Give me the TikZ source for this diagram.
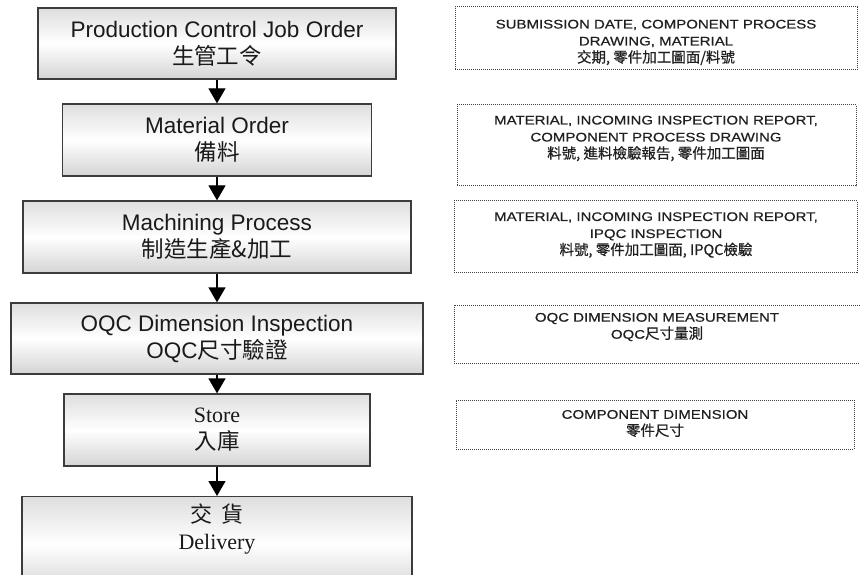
\documentclass[tikz,border=0pt]{standalone}
\usepackage{fontspec}
\setmainfont{Liberation Sans}
\newfontfamily\serifx{Liberation Serif}
\newfontfamily\cjk{Noto Sans CJK TC}
\newfontfamily\cjknote[FakeBold=0.6]{Noto Sans CJK TC}
\newfontfamily\notefont[FakeStretch=1.2,FakeBold=0.6]{Liberation Sans}
\usetikzlibrary{arrows.meta}
\definecolor{boxline}{HTML}{3C3C3C}
\definecolor{boxtop}{HTML}{DEDEDE}
\definecolor{boxbot}{HTML}{D4D4D4}
\definecolor{noteline}{HTML}{404040}
\definecolor{notecol}{HTML}{202020}
\definecolor{txt}{HTML}{1A1A1A}
\newcommand\nc{\cjknote\fontsize{14.5}{17}\selectfont}
\tikzset{
  flowbox/.style={draw=boxline, line width=1.3pt, top color=boxtop, bottom color=boxbot, middle color=white,
    text=txt, align=center, font=\fontsize{22.5}{27}\selectfont, inner sep=0pt},
  flowtext/.style={text=txt, align=center, font=\fontsize{22}{27}\selectfont, inner sep=0pt},
  notebox/.style={draw=noteline, dash pattern=on 1pt off 1pt, line width=1pt, inner sep=0pt},
  notetext/.style={align=center, text=notecol, font=\notefont\fontsize{12.5}{17}\selectfont, inner sep=0pt},
  flow/.style={draw=black, line width=1.3pt, -{Triangle[width=17pt,length=15pt]}},
}
\begin{document}
\begin{tikzpicture}[x=1pt,y=-1pt]
\useasboundingbox (0,0) rectangle (860,575);
% process boxes
\node[flowbox, minimum width=358pt, minimum height=71pt] (b1) at (217,43.5) {Production Control Job Order\\{\cjk 生管工令}};
\node[flowbox, minimum width=309pt, minimum height=72pt] (b2) at (217,140) {Material Order\\{\cjk 備料}};
\node[flowbox, minimum width=388pt, minimum height=72pt] (b3) at (217,237) {Machining Process\\{\cjk 制造生產\&加工}};
\node[flowbox, minimum width=412pt, minimum height=71pt] (b4) at (217,338.5) {OQC Dimension Inspection\\OQC{\cjk 尺寸驗證}};
\node[flowbox, minimum width=306pt, minimum height=72pt] (b5) at (217,430) {{\serifx\fontsize{22}{27}\selectfont Store}\\{\cjk 入庫}};
\node[flowbox, minimum width=390pt, minimum height=95pt, anchor=north] (b6) at (217,496) {};
\node[flowtext] (t6) at (217,529) {{\cjk 交\hspace{0.4em}貨}\\{\serifx Delivery}};
% connectors
\draw[flow] (b1.south) -- (b2.north);
\draw[flow] (b2.south) -- (b3.north);
\draw[flow] (b3.south) -- (b4.north);
\draw[flow] (b4.south) -- (b5.north);
\draw[flow] (b5.south) -- (b6.north);
% note boxes
\node[notebox, minimum width=402pt, minimum height=63pt] (n1) at (656,38.5) {};
\node[notebox, minimum width=399pt, minimum height=81pt] (n2) at (656.5,145.5) {};
\node[notebox, minimum width=403pt, minimum height=71pt] (n3) at (655.5,236.5) {};
\node[notebox, minimum width=416pt, minimum height=58pt] (n4) at (662,334) {};
\node[notebox, minimum width=398pt, minimum height=49pt] (n5) at (655,424.5) {};
\node[notetext] (n1t) at (656,42.5) {SUBMISSION DATE, COMPONENT PROCESS\\DRAWING, MATERIAL\\{\nc 交期, 零件加工圖面/料號}};
\node[notetext] (n2t) at (656,138.5) {MATERIAL, INCOMING INSPECTION REPORT,\\COMPONENT PROCESS DRAWING\\{\nc 料號, 進料檢驗報告, 零件加工圖面}};
\node[notetext] (n3t) at (656,235) {MATERIAL, INCOMING INSPECTION REPORT,\\IPQC INSPECTION\\{\nc 料號, 零件加工圖面, IPQC檢驗}};
\node[notetext] (n4t) at (657,327) {OQC DIMENSION MEASUREMENT\\OQC{\nc 尺寸量測}};
\node[notetext] (n5t) at (655,423.5) {COMPONENT DIMENSION\\{\nc 零件尺寸}};
\end{tikzpicture}
\end{document}
